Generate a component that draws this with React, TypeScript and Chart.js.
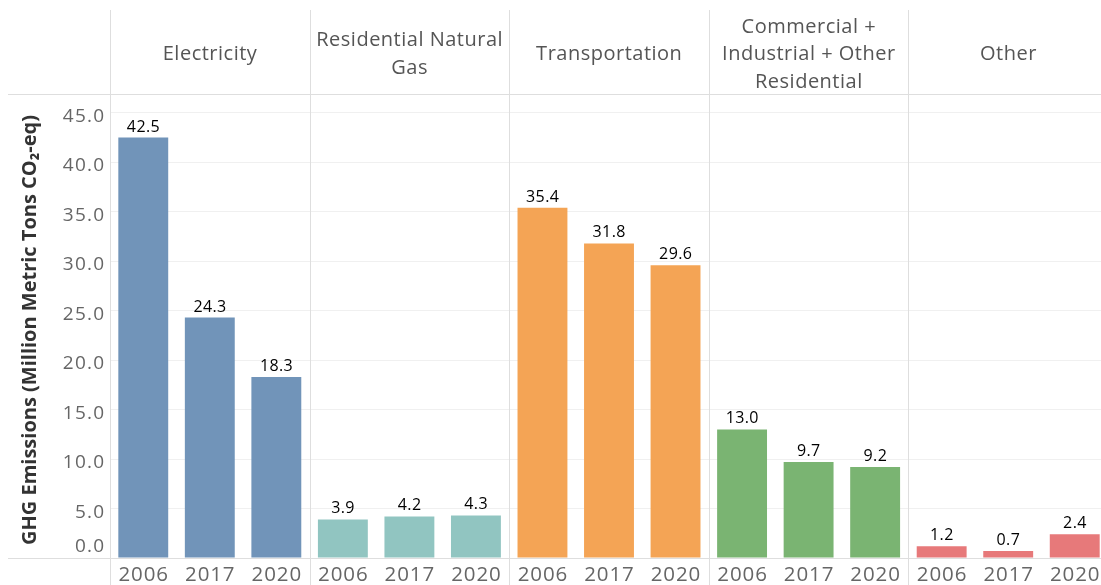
import React, { useEffect, useRef } from "react";
import { Chart, registerables } from "chart.js";

Chart.register(...registerables);

const groupTitles: string[][] = [
  ["Electricity"],
  ["Residential Natural", "Gas"],
  ["Transportation"],
  ["Commercial +", "Industrial + Other", "Residential"],
  ["Other"],
];
const years = ["2006", "2017", "2020"];
const electricity = [42.5, 24.3, 18.3];
const naturalGas = [3.9, 4.2, 4.3];
const transportation = [35.4, 31.8, 29.6];
const commercial = [13.0, 9.7, 9.2];
const other = [1.2, 0.7, 2.4];
const yTicks = [0, 5, 10, 15, 20, 25, 30, 35, 40, 45];
const groupColors = ["#7194b9", "#91c5c1", "#f4a455", "#7ab472", "#e7797a"];
const yTitle = "GHG Emissions (Million Metric Tons CO\u2082-eq)";

const FONT = '"Open Sans", "Noto Sans", sans-serif';

function spacedText(
  ctx: CanvasRenderingContext2D,
  text: string,
  x: number,
  y: number,
  spacing: number,
  align: "left" | "center" | "right"
) {
  (ctx as any).letterSpacing = `${spacing}px`;
  ctx.textAlign = "left";
  const w = ctx.measureText(text).width - spacing;
  let sx = x;
  if (align === "center") sx = x - w / 2;
  else if (align === "right") sx = x - w;
  ctx.fillText(text, sx, y);
  (ctx as any).letterSpacing = "0px";
}

export default function App() {
  const ref = useRef<HTMLCanvasElement | null>(null);

  useEffect(() => {
    const canvas = ref.current;
    if (!canvas) return;
    const series = [electricity, naturalGas, transportation, commercial, other];
    const values: number[] = [];
    const labels: string[] = [];
    const colors: string[] = [];
    series.forEach((s, gi) => {
      s.forEach((v, i) => {
        values.push(v);
        labels.push(years[i]);
        colors.push(groupColors[gi]);
      });
    });

    const facetPlugin = {
      id: "facet",
      afterDraw(chart: any) {
        const ctx = chart.ctx as CanvasRenderingContext2D;
        const area = chart.chartArea;
        const xs = chart.scales.x;
        const ys = chart.scales.y;
        const n = years.length;
        ctx.save();
        // frame lines
        ctx.strokeStyle = "#dedede";
        ctx.lineWidth = 1;
        ctx.beginPath();
        ctx.moveTo(8, Math.round(area.top) + 0.5);
        ctx.lineTo(chart.width, Math.round(area.top) + 0.5);
        ctx.moveTo(8, Math.round(area.bottom) + 0.5);
        ctx.lineTo(chart.width, Math.round(area.bottom) + 0.5);
        const dividers: number[] = [area.left];
        for (let g = 1; g < groupTitles.length; g++) {
          const a = xs.getPixelForValue(g * n - 1);
          const b = xs.getPixelForValue(g * n);
          dividers.push((a + b) / 2);
        }
        dividers.forEach((x) => {
          const px = Math.round(x) + 0.5;
          ctx.moveTo(px, 10);
          ctx.lineTo(px, chart.height);
        });
        ctx.stroke();

        ctx.textBaseline = "alphabetic";

        // header titles
        ctx.fillStyle = "#555555";
        ctx.font = `20px ${FONT}`;
        const lh = 27.5;
        const capHalf = 7.1;
        groupTitles.forEach((lines, g) => {
          const cx = xs.getPixelForValue(g * n + 1);
          const cy = 53;
          const start = cy - ((lines.length - 1) * lh) / 2;
          lines.forEach((t, i) => spacedText(ctx, t, cx, start + i * lh + capHalf, 0.5, "center"));
        });

        // y tick labels
        ctx.fillStyle = "#666666";
        ctx.font = `19px ${FONT}`;
        yTicks.forEach((v) => {
          let y = ys.getPixelForValue(v) + 9.2;
          y = Math.min(y, area.bottom - 6);
          spacedText(ctx, v.toFixed(1), 104, y, 1.2, "right");
        });

        // x tick labels
        ctx.font = `20.5px ${FONT}`;
        labels.forEach((t, i) => {
          spacedText(ctx, t, xs.getPixelForValue(i), 581.3, 0.9, "center");
        });

        // y title
        ctx.save();
        ctx.translate(36, 330);
        ctx.rotate(-Math.PI / 2);
        ctx.fillStyle = "#333333";
        ctx.font = `bold 20px ${FONT}`;
        ctx.textAlign = "center";
        ctx.fillText(yTitle, 0, 0);
        ctx.restore();

        // value labels
        const meta = chart.getDatasetMeta(0);
        ctx.fillStyle = "#000000";
        ctx.font = `16px ${FONT}`;
        meta.data.forEach((bar: any, i: number) => {
          spacedText(ctx, values[i].toFixed(1), bar.x, bar.y - 6, 0.4, "center");
        });
        ctx.restore();
      },
    };

    const chart = new Chart(canvas, {
      type: "bar",
      data: {
        labels,
        datasets: [
          {
            data: values,
            backgroundColor: colors,
            borderWidth: 0,
            barPercentage: 0.75,
            categoryPercentage: 1,
          },
        ],
      },
      options: {
        responsive: false,
        animation: false,
        devicePixelRatio: 1,
        layout: { padding: { left: 8, right: 4, top: 94, bottom: 0 } },
        plugins: {
          legend: { display: false },
          tooltip: { enabled: false },
          title: { display: false },
        },
        scales: {
          x: {
            type: "category",
            grid: { display: false, drawTicks: false },
            border: { display: false },
            ticks: { display: false },
            afterFit(axis: any) {
              axis.height = 42;
            },
          },
          y: {
            min: 0,
            max: 46.9,
            grid: { color: "#f0f0f0", drawTicks: false },
            border: { display: false },
            ticks: { display: false, stepSize: 5 },
            afterFit(axis: any) {
              axis.width = 102;
            },
          },
        },
      },
      plugins: [facetPlugin],
    });
    return () => chart.destroy();
  }, []);

  return (
    <div
      style={{
        position: "fixed",
        left: 0,
        top: 0,
        width: 1101,
        height: 585,
        overflow: "hidden",
        background: "#ffffff",
      }}
    >
      <canvas ref={ref} width={1112} height={600} style={{ width: 1112, height: 600, display: "block" }} />
    </div>
  );
}
